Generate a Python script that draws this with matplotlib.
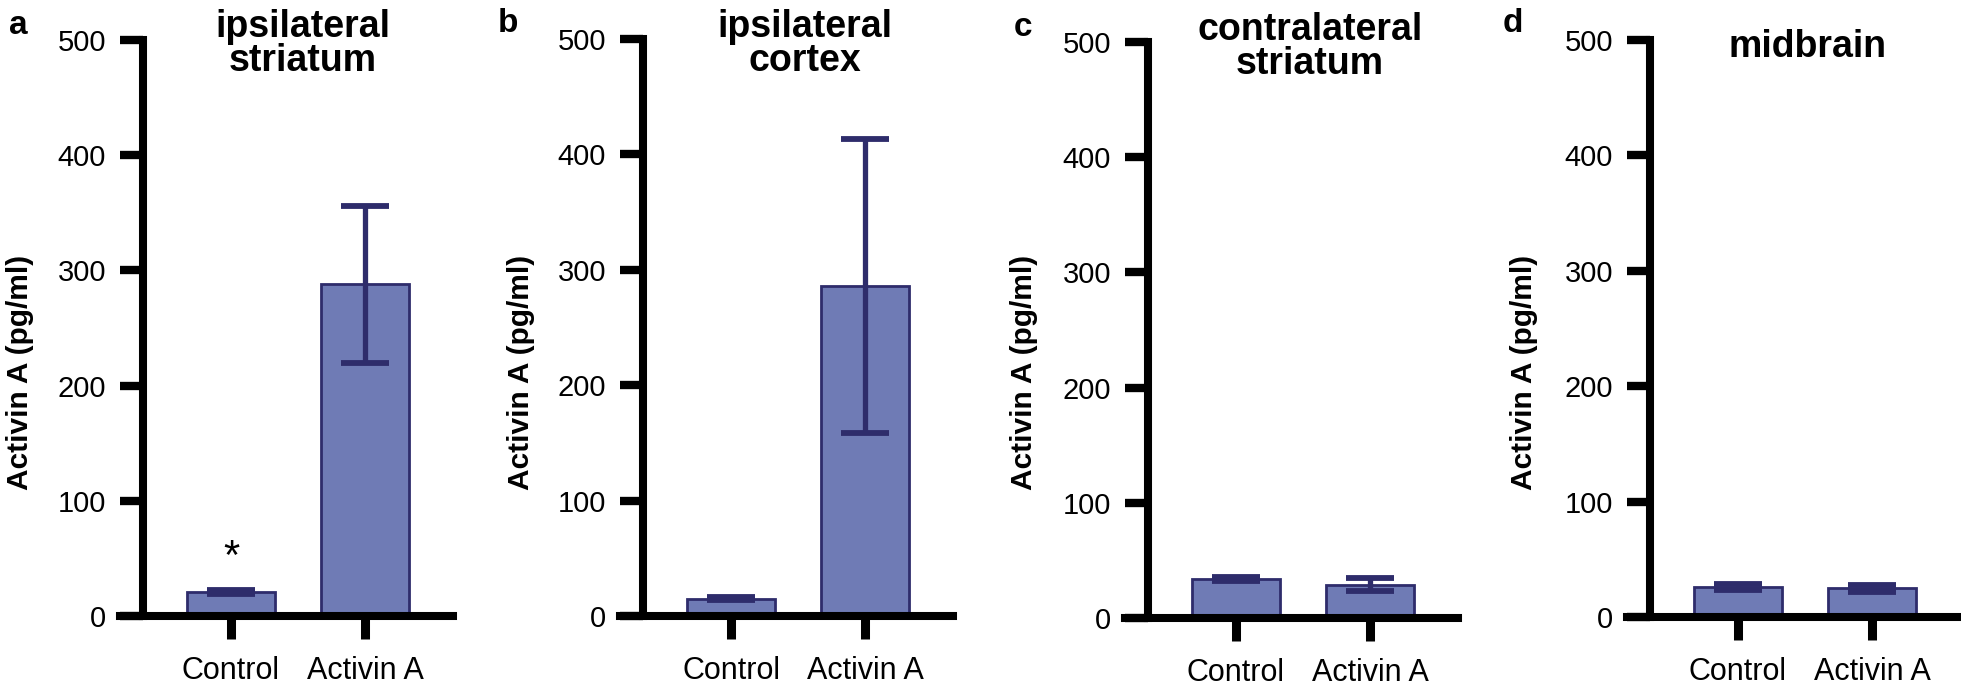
import matplotlib
matplotlib.use("Agg")
import matplotlib.pyplot as plt
import numpy as np

plt.rcParams['font.family'] = ['Liberation Sans', 'DejaVu Sans']

groups = ["Control", "Activin A"]
titles = ["ipsilateral\nstriatum", "ipsilateral\ncortex", "contralateral\nstriatum", "midbrain"]
letters = ["a", "b", "c", "d"]

means_a = [21, 288]
err_a = [2, 68]
means_b = [15, 286]
err_b = [1.5, 127]
means_c = [34, 29]
err_c = [2, 5.5]
means_d = [26, 25]
err_d = [2.5, 3]

yticks = [0, 100, 200, 300, 400, 500]

means = [means_a, means_b, means_c, means_d]
errs = [err_a, err_b, err_c, err_d]

W, H = 1961, 691
fill = "#6f7bb5"
dark = "#2e2c6b"

# layout in pixels (y axis x-pos, y of 500, y of 0)
yax = [143, 643, 1148, 1650]
ytop = [40, 39, 42, 40]
ybot = [616, 616, 618, 617]
title_xy = [(303, 44), (805, 44), (1310, 47), (1808, 47)]
letter_xy = [(18, 25), (508, 24), (1023, 27), (1513, 23)]
# right edge of the rotated y label
ylab_xy = [(34, 372), (535, 372), (1038, 372), (1538, 372)]

fig = plt.figure(figsize=(W / 100, H / 100), dpi=100)

unit = 134.0
for i in range(4):
    left = yax[i] - 23
    right = yax[i] + 310
    ax = fig.add_axes([left / W, (H - ybot[i]) / H, (right - left) / W, (ybot[i] - ytop[i]) / H])
    x = np.arange(len(groups))
    ax.bar(x, means[i], width=0.66, color=fill, edgecolor=dark, linewidth=2, zorder=1)
    ax.errorbar(x, means[i], yerr=errs[i], fmt="none", ecolor=dark, elinewidth=3.8,
                capsize=17, capthick=4.2, zorder=2)
    ax.set_xlim(-111 / unit, 222 / unit)
    ax.set_ylim(0, 500)
    ax.set_yticks(yticks)
    ax.set_xticks(x)
    ax.set_xticklabels(groups)
    ax.tick_params(axis="y", length=16.5, width=6, pad=10, direction="out", labelsize=21)
    ax.tick_params(axis="x", length=16.5, width=6.5, pad=12, direction="out", labelsize=22)
    for s in ["top", "right"]:
        ax.spines[s].set_visible(False)
    ax.spines["left"].set_position(("axes", 23 / (right - left)))
    ax.spines["left"].set_linewidth(5.8)
    ax.spines["bottom"].set_linewidth(5.8)
    ax.spines["left"].set_bounds(0, 500)
    ax.set_ylabel("Activin A (pg/ml)", fontsize=21.5, fontweight="bold")
    ax.yaxis.set_label_coords((ylab_xy[i][0] - left) / (right - left),
                              (ybot[i] - ylab_xy[i][1]) / (ybot[i] - ytop[i]))
    fig.text(title_xy[i][0] / W, 1 - title_xy[i][1] / H, titles[i], fontsize=27,
             fontweight="bold", ha="center", va="center", linespacing=0.95)
    fig.text(letter_xy[i][0] / W, 1 - letter_xy[i][1] / H, letters[i], fontsize=24,
             fontweight="bold", ha="center", va="center")

# significance marker on panel a
ax_a = fig.axes[0]
ax_a.text(0, 50, "*", fontsize=30, ha="center", va="center")

fig.savefig("out.png", dpi=100)
